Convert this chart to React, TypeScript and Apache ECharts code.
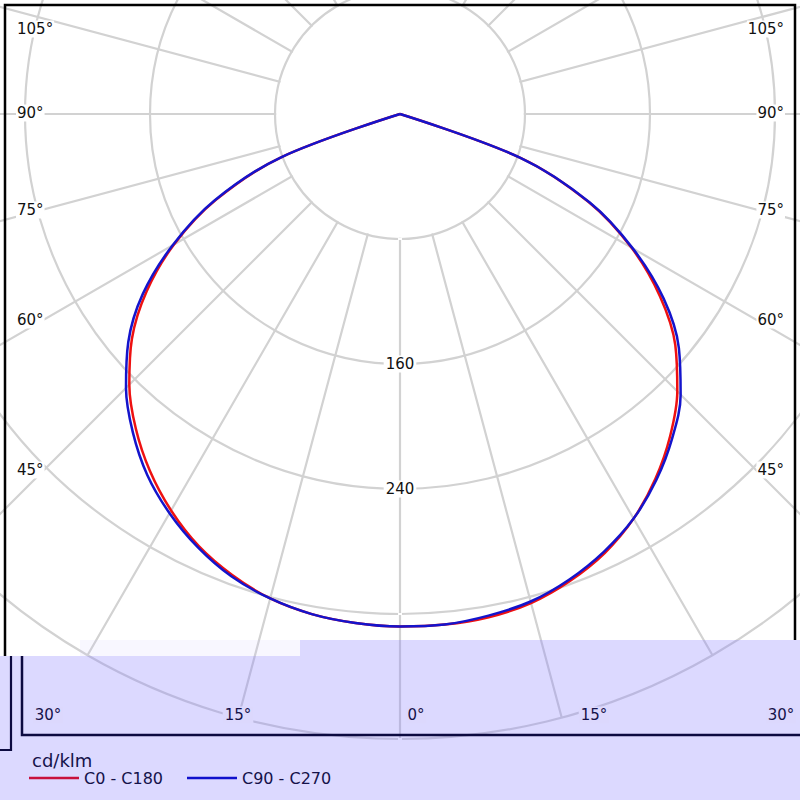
import React, { useEffect, useRef } from 'react';
import * as echarts from 'echarts';

// ---- data (cd/klm), gamma angle in degrees from nadir ----
const ANGLES = [0, 5, 10, 15, 20, 25, 30, 35, 40, 45, 50, 55, 60, 65, 70, 75];
const C0 = [328, 328, 327, 324, 318, 310, 299, 285, 269, 251, 230, 203, 171, 133, 82, 0];
const C180 = [328, 327, 325, 321, 314, 305, 293, 279, 263, 245, 224, 198, 167, 130, 81, 0];
const C90 = [328, 328, 326, 323, 317, 309, 299, 286, 271, 254, 233, 206, 172, 134, 82, 0];
const C270 = [328, 327, 325, 321, 315, 306, 295, 282, 266, 248, 227, 201, 168, 131, 81, 0];
const SERIES_NAMES = ['C0 - C180', 'C90 - C270'];
const RADIUS_LABELS = [160, 240];
const SIDE_ANGLE_LABELS = [105, 90, 75, 60, 45];
const BOTTOM_ANGLE_LABELS = [30, 15, 0];
const UNIT = 'cd/klm';

// ---- layout / style ----
const FONT = 'DejaVu Sans';
const CENTER: [number, number] = [400, 114];
const OUTER_R = 625;
const R_MAX = 400;
const FIRST_RING = 80;
const SIDE_Y: Record<number, number> = { 105: 29, 90: 113, 75: 210, 60: 320, 45: 470 };
const BOTTOM_X_LEFT: Record<number, number> = { 30: 48, 15: 238, 0: 416 };
const BOTTOM_X_RIGHT: Record<number, number> = { 30: 781, 15: 594 };
const LAV = '#dcd8fd';
const NAVY = '#15124a';
const GRID = '#d2d2d2';

function buildCurve(left: number[], right: number[]) {
  const pts: [number, number][] = [];
  for (let i = ANGLES.length - 1; i >= 0; i--) pts.push([left[i], ANGLES[i]]);
  for (let i = 1; i < ANGLES.length; i++) pts.push([right[i], 360 - ANGLES[i]]);
  return pts;
}

export default function App() {
  const ref = useRef<HTMLDivElement>(null);
  useEffect(() => {
    if (!ref.current) return;
    const chart = echarts.init(ref.current, undefined, { renderer: 'svg' });

    const graphics: any[] = [];
    // blank the radial lines inside the first ring
    graphics.push({
      type: 'circle', z: 1,
      shape: { cx: CENTER[0], cy: CENTER[1], r: (FIRST_RING / R_MAX) * OUTER_R - 1.2 },
      style: { fill: '#fff' },
    });
    // lavender overlay (lower band)
    graphics.push({
      type: 'polygon',
      z: 10,
      shape: { points: [[0, 656], [300, 656], [300, 640], [800, 640], [800, 800], [0, 800]] },
      style: { fill: 'rgba(140,130,255,0.30)' },
    });
    graphics.push({
      type: 'rect', z: 10,
      shape: { x: 80, y: 640, width: 220, height: 16 },
      style: { fill: 'rgba(200,190,255,0.12)' },
    });
    // frames
    graphics.push({
      type: 'polyline', z: 20,
      shape: { points: [[5, 656], [5, 5], [795, 5], [795, 640]] },
      style: { stroke: '#000', lineWidth: 2.5, fill: 'none' },
    });
    graphics.push({
      type: 'polyline', z: 20,
      shape: { points: [[11, 656], [11, 750], [0, 750]] },
      style: { stroke: '#0c0a40', lineWidth: 2.2, fill: 'none' },
    });
    graphics.push({
      type: 'polyline', z: 20,
      shape: { points: [[22, 656], [22, 735], [800, 735]] },
      style: { stroke: '#0c0a40', lineWidth: 2.5, fill: 'none' },
    });
    // side angle labels
    SIDE_ANGLE_LABELS.forEach((a) => {
      graphics.push({
        type: 'text', z: 21, x: 16, y: SIDE_Y[a],
        style: {
          text: a + '°', fontFamily: FONT, fontSize: 15, fill: '#111',
          align: 'left', verticalAlign: 'middle', backgroundColor: '#fff', padding: [1, 1],
        },
      });
      graphics.push({
        type: 'text', z: 21, x: 785, y: SIDE_Y[a],
        style: {
          text: a + '°', fontFamily: FONT, fontSize: 15, fill: '#111',
          align: 'right', verticalAlign: 'middle', backgroundColor: '#fff', padding: [1, 1],
        },
      });
    });
    BOTTOM_ANGLE_LABELS.forEach((a) => {
      const xs = [BOTTOM_X_LEFT[a]];
      if (BOTTOM_X_RIGHT[a] !== undefined) xs.push(BOTTOM_X_RIGHT[a]);
      xs.forEach((x) => {
        graphics.push({
          type: 'text', z: 21, x, y: 715,
          style: {
            text: a + '°', fontFamily: FONT, fontSize: 15, fill: NAVY,
            align: 'center', verticalAlign: 'middle', backgroundColor: LAV, padding: [1, 2],
          },
        });
      });
    });
    graphics.push({
      type: 'text', z: 21, x: 32, y: 760,
      style: {
        text: UNIT, fontFamily: FONT, fontSize: 18, fill: NAVY,
        align: 'left', verticalAlign: 'middle',
      },
    });

    chart.setOption({
      animation: false,
      backgroundColor: '#fff',
      polar: { center: CENTER, radius: [0, OUTER_R] },
      angleAxis: {
        type: 'value', min: 0, max: 360, interval: 15,
        startAngle: -90, clockwise: true, z: 0,
        axisLine: { show: false }, axisTick: { show: false }, axisLabel: { show: false },
        splitLine: { show: true, lineStyle: { color: GRID, width: 2.2 } },
      },
      radiusAxis: {
        type: 'value', min: 0, max: R_MAX, interval: FIRST_RING,
        axisLine: { show: false }, axisTick: { show: false },
        axisLabel: {
          margin: 0, align: 'center', verticalAlign: 'middle',
          fontFamily: FONT, fontSize: 15, color: '#111',
          backgroundColor: '#fff', padding: [1, 2],
          formatter: (v: number) => (RADIUS_LABELS.includes(v) ? String(v) : ''),
        },
        splitLine: { show: true, lineStyle: { color: GRID, width: 2.2 } },
        z: 1,
      },
      legend: {
        left: 29, top: 770, padding: 0,
        itemWidth: 50, itemHeight: 2.5, itemGap: 24, icon: 'rect',
        selectedMode: false, z: 30,
        textStyle: { fontFamily: FONT, fontSize: 16, color: NAVY },
        data: [
          { name: SERIES_NAMES[0], itemStyle: { color: '#c8103c' } },
          { name: SERIES_NAMES[1], itemStyle: { color: '#1010cc' } },
        ],
      },
      series: [
        {
          name: SERIES_NAMES[0], type: 'line', coordinateSystem: 'polar',
          data: buildCurve(C180, C0), symbol: 'none', clip: false, smooth: 0.35,
          lineStyle: { color: '#ee1111', width: 2.5 }, itemStyle: { color: '#ee1111' }, z: 3,
        },
        {
          name: SERIES_NAMES[1], type: 'line', coordinateSystem: 'polar',
          data: buildCurve(C270, C90), symbol: 'none', clip: false, smooth: 0.35,
          lineStyle: { color: '#1414cc', width: 2.5 }, itemStyle: { color: '#1414cc' }, z: 4,
        },
      ],
      graphic: { elements: graphics },
    });
    return () => chart.dispose();
  }, []);
  return (
    <div
      ref={ref}
      style={{ position: 'fixed', left: 0, top: 0, width: 800, height: 800, background: '#fff' }}
    />
  );
}
